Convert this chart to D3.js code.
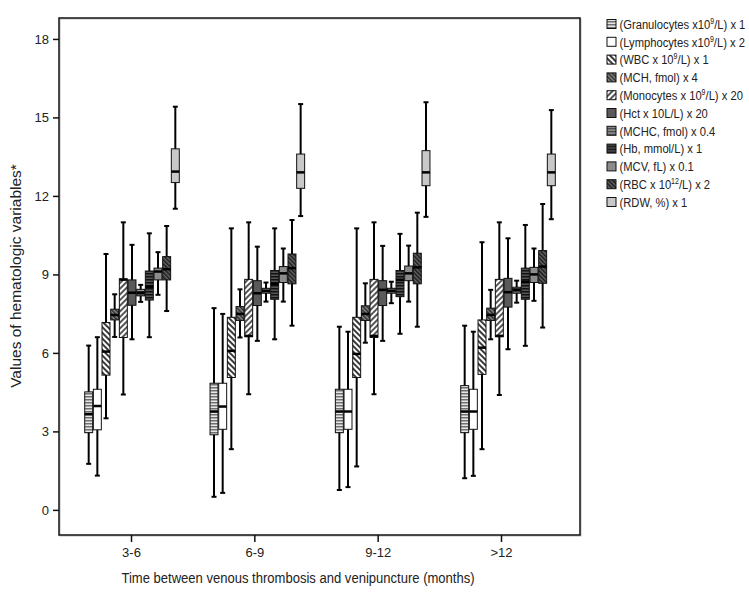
<!DOCTYPE html>
<html>
<head>
<meta charset="UTF-8">
<title>Hematologic variables</title>
<script src="https://d3js.org/d3.v7.min.js"></script>
<style>
  body { margin: 0; background: #fff; }
  svg text { font-family: "Liberation Sans", Arial, sans-serif; fill: #222; }
</style>
</head>
<body>
<div id="chart"></div>
<script>
// time groups on the x axis
var groups = ["3-6", "6-9", "9-12", ">12"];
var yTicks = [0, 3, 6, 9, 12, 15, 18];

// legend labels: [before superscript, superscript, after]
var varLabels = [
  ["(Granulocytes x10", "9", "/L) x 1"],
  ["(Lymphocytes x10", "9", "/L) x 2"],
  ["(WBC x 10", "9", "/L) x 1"],
  ["(MCH, fmol) x 4", "", ""],
  ["(Monocytes x 10", "9", "/L) x 20"],
  ["(Hct x 10L/L) x 20", "", ""],
  ["(MCHC, fmol) x 0.4", "", ""],
  ["(Hb, mmol/L) x 1", "", ""],
  ["(MCV, fL) x 0.1", "", ""],
  ["(RBC x 10", "12", "/L) x 2"],
  ["(RDW, %) x 1", "", ""]
];

// box values per group: [whisker low, q1, median, q3, whisker high]
var granulocytes = [[1.76, 2.95, 3.66, 4.51, 6.28], [0.5, 2.87, 3.76, 4.84, 7.71], [0.76, 2.95, 3.76, 4.61, 7.0], [1.21, 2.95, 3.76, 4.75, 7.04]];
var lymphocytes  = [[1.31, 3.06, 3.97, 4.61, 6.6],  [0.65, 3.08, 3.95, 4.84, 7.49], [0.87, 3.08, 3.76, 4.61, 6.81], [1.3, 3.08, 3.76, 4.61, 6.81]];
var wbc          = [[3.5, 5.15, 6.05, 7.16, 9.78],  [2.32, 5.06, 6.08, 7.36, 10.76], [1.66, 5.06, 5.96, 7.36, 10.76], [2.32, 5.18, 6.2, 7.26, 10.23]];
var mch          = [[6.61, 7.26, 7.45, 7.67, 8.24], [6.59, 7.24, 7.49, 7.77, 8.43], [6.39, 7.24, 7.49, 7.8, 8.66], [6.52, 7.24, 7.45, 7.71, 8.41]];
var monocytes    = [[4.41, 6.59, 8.8, 8.83, 10.99], [4.42, 6.62, 6.65, 8.81, 10.99], [4.42, 6.59, 6.65, 8.81, 10.99], [4.39, 6.62, 6.65, 8.81, 10.99]];
var hct          = [[6.52, 7.82, 8.3, 8.79, 10.13], [6.46, 7.81, 8.28, 8.76, 10.06], [6.46, 7.81, 8.41, 8.76, 10.09], [6.14, 7.75, 8.32, 8.85, 10.38]];
var mchc         = [[7.95, 8.18, 8.3, 8.43, 8.6],   [7.96, 8.28, 8.37, 8.47, 8.69], [7.9, 8.28, 8.37, 8.47, 8.72], [7.92, 8.28, 8.41, 8.51, 8.76]];
var hb           = [[6.6, 8.02, 8.53, 9.13, 10.57], [6.52, 8.05, 8.64, 9.15, 10.76], [6.73, 8.15, 8.79, 9.15, 10.55], [6.27, 8.05, 8.72, 9.24, 10.89]];
var mcv          = [[8.22, 8.79, 9.11, 9.24, 9.85], [7.96, 8.69, 9.04, 9.3, 9.99], [7.96, 8.76, 9.04, 9.32, 10.1], [7.99, 8.69, 9.0, 9.27, 9.99]];
var rbc          = [[7.6, 8.79, 9.2, 9.68, 10.85],  [7.04, 8.64, 9.24, 9.78, 11.08], [7.0, 8.64, 9.27, 9.81, 11.36], [6.97, 8.66, 9.3, 9.91, 11.69]];
var rdw          = [[11.51, 12.51, 12.93, 13.8, 15.41], [11.23, 12.29, 12.9, 13.6, 15.51], [11.2, 12.39, 12.9, 13.73, 15.58], [11.11, 12.39, 12.9, 13.6, 15.28]];

var series = [granulocytes, lymphocytes, wbc, mch, monocytes, hct, mchc, hb, mcv, rbc, rdw];
var fills = ["url(#pGran)", "#ffffff", "url(#pWbc)", "url(#pMch)", "url(#pMono)", "#5a5a5a",
             "url(#pMchc)", "url(#pHb)", "#8c8c8c", "url(#pRbc)", "#c8c8c8"];

var width = 749, height = 593;
var frame = {left: 59, right: 580, top: 18, bottom: 535};

var svg = d3.select("#chart").append("svg")
    .attr("width", width)
    .attr("height", height);

// fill patterns
var defs = svg.append("defs");
function hPattern(id, bg, fg, size) {
  var p = defs.append("pattern").attr("id", id).attr("patternUnits", "userSpaceOnUse")
      .attr("width", 4).attr("height", size);
  p.append("rect").attr("width", 4).attr("height", size).attr("fill", bg);
  p.append("rect").attr("width", 4).attr("height", size / 2).attr("fill", fg);
}
function dPattern(id, bg, fg, size, sw, dir) {
  var p = defs.append("pattern").attr("id", id).attr("patternUnits", "userSpaceOnUse")
      .attr("width", size).attr("height", size)
      .attr("patternTransform", "rotate(" + dir + ")");
  p.append("rect").attr("width", size).attr("height", size).attr("fill", bg);
  p.append("rect").attr("width", sw).attr("height", size).attr("fill", fg);
}
hPattern("pGran", "#e6e6e6", "#707070", 3);
dPattern("pWbc", "#ffffff", "#3a3a3a", 4, 2, -45);
dPattern("pMch", "#8a8a8a", "#2a2a2a", 3, 1.5, -45);
dPattern("pMono", "#ffffff", "#555555", 4, 2, 45);
hPattern("pMchc", "#999999", "#444444", 3);
hPattern("pHb", "#555555", "#111111", 3);
dPattern("pRbc", "#666666", "#1a1a1a", 3, 1.5, -45);

// scales
var y = d3.scaleLinear().domain([-0.96, 18.8]).range([frame.bottom, frame.top]);
var x = d3.scalePoint().domain(groups).range([131, 501]);
// box clusters sit slightly wider apart than the tick marks
var xBox = d3.scalePoint().domain(groups).range([132, 508]);
var inner = d3.scaleBand().domain(d3.range(series.length)).range([-47.3, 47.3]).paddingInner(0.08);
var bw = inner.bandwidth();

// frame
svg.append("rect")
    .attr("x", frame.left + 1).attr("y", frame.top + 1)
    .attr("width", frame.right - frame.left).attr("height", frame.bottom - frame.top)
    .attr("fill", "none").attr("stroke", "#bbb").attr("stroke-width", 1);
svg.append("rect")
    .attr("x", frame.left).attr("y", frame.top)
    .attr("width", frame.right - frame.left).attr("height", frame.bottom - frame.top)
    .attr("fill", "none").attr("stroke", "#111").attr("stroke-width", 1.5);

// axes
var yAxis = svg.append("g")
    .attr("transform", "translate(" + frame.left + ",0)")
    .call(d3.axisLeft(y).tickValues(yTicks).tickSize(6).tickPadding(4));
var xAxis = svg.append("g")
    .attr("transform", "translate(0," + frame.bottom + ")")
    .call(d3.axisBottom(x).tickSize(7).tickPadding(6));
[yAxis, xAxis].forEach(function(a) {
  a.select(".domain").remove();
  a.selectAll("line").attr("stroke", "#111").attr("stroke-width", 1.5);
  a.selectAll("text").attr("font-size", 13).attr("fill", "#222")
    .style("font-family", "'Liberation Sans', Arial, sans-serif");
});

// boxes
series.forEach(function(s, i) {
  var g = svg.append("g");
  s.forEach(function(d, j) {
    var cx = xBox(groups[j]) + inner(i) + bw / 2;
    // whisker
    g.append("line")
      .attr("x1", cx).attr("x2", cx)
      .attr("y1", y(d[0])).attr("y2", y(d[4]))
      .attr("stroke", "#000").attr("stroke-width", 2);
    [d[0], d[4]].forEach(function(v) {
      g.append("line")
        .attr("x1", cx - 2.5).attr("x2", cx + 2.5)
        .attr("y1", y(v)).attr("y2", y(v))
        .attr("stroke", "#000").attr("stroke-width", 2);
    });
    g.append("rect")
      .attr("x", cx - bw / 2).attr("width", bw)
      .attr("y", y(d[3])).attr("height", y(d[1]) - y(d[3]))
      .attr("fill", fills[i]).attr("stroke", "#111").attr("stroke-width", 1);
    g.append("line")
      .attr("x1", cx - bw / 2).attr("x2", cx + bw / 2)
      .attr("y1", y(d[2])).attr("y2", y(d[2]))
      .attr("stroke", "#000").attr("stroke-width", 2.5);
  });
});

// axis titles (narrowed to mimic the condensed face)
svg.append("g").attr("transform", "translate(298,583) scale(0.9,1)")
  .append("text")
    .attr("text-anchor", "middle").attr("font-size", 14.5)
    .text("Time between venous thrombosis and venipuncture (months)");
svg.append("g").attr("transform", "translate(21,276) rotate(-90)")
  .append("text")
    .attr("text-anchor", "middle").attr("font-size", 15.5)
    .text("Values of hematologic variables*");

// legend
var legend = svg.append("g").attr("transform", "translate(607,24)");
varLabels.forEach(function(l, i) {
  var row = legend.append("g").attr("transform", "translate(0," + (i * 17.8) + ")");
  row.append("rect").attr("x", 0).attr("y", -4.5).attr("width", 9).attr("height", 9)
    .attr("fill", fills[i]).attr("stroke", "#111").attr("stroke-width", 1);
  var t = row.append("g").attr("transform", "translate(12.5,4.8) scale(0.83,1)")
    .append("text").attr("font-size", 13.5);
  t.append("tspan").text(l[0]);
  if (l[1]) {
    t.append("tspan").attr("font-size", 8.5).attr("dy", -5).text(l[1]);
    t.append("tspan").attr("dy", 5).text(l[2]);
  }
});
</script>
</body>
</html>
